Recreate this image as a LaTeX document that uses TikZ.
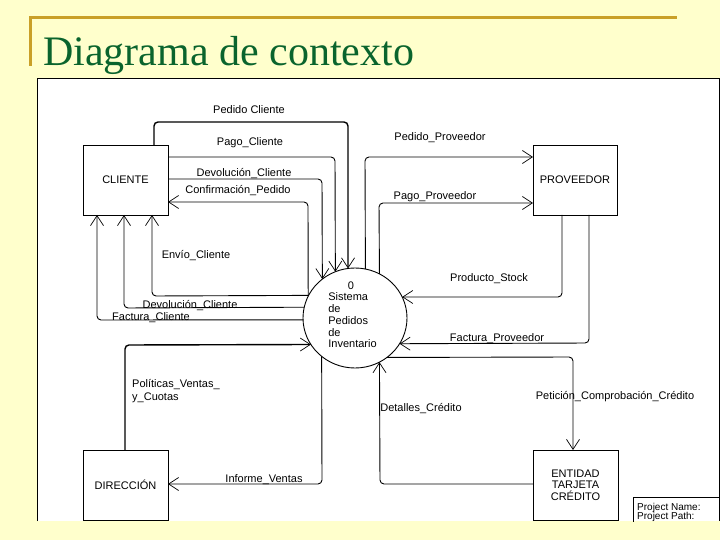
\documentclass[tikz,border=0pt]{standalone}
\usepackage{fontspec}
\setmainfont{Liberation Serif}
\newfontfamily\arialf{Liberation Sans}
\usetikzlibrary{arrows.meta,shapes.geometric}
\definecolor{bgyellow}{RGB}{255,255,204}
\definecolor{titlegreen}{RGB}{10,100,45}
\definecolor{goldline}{RGB}{201,160,40}
\begin{document}
\begin{tikzpicture}[x=1pt,y=-1pt,
  flow/.style={draw, line width=0.9pt, rounded corners=4pt,
    -{Straight Barb[length=10pt,width=13pt,line width=0.7pt]}},
  entity/.style={draw, line width=0.9pt, minimum width=85pt, minimum height=70pt,
    inner sep=0pt, outer sep=0pt, align=center,
    font=\arialf\fontsize{11}{11.6}\selectfont},
  lbl/.style={font=\arialf\fontsize{11}{13}\selectfont, inner sep=0pt}]
\fill[bgyellow] (0,0) rectangle (720,540);
\useasboundingbox (0,0) rectangle (720,540);
% title
\draw[goldline, line width=3pt] (30,66) -- (30,18) -- (677,18);
\node[anchor=base west, inner sep=0pt, text=titlegreen,
  font=\fontsize{42}{48}\selectfont] (title) at (43,66) {Diagrama de contexto};
% panel
\fill[white] (37,78) rectangle (719.5,521);
\draw[line width=0.8pt] (37,521) -- (37,78) -- (719.5,78) -- (719.5,521);
\begin{scope}
\clip (37,78) rectangle (720,521);
% entities
\node[entity] (cli) at (125.5,180) {CLIENTE};
\node[entity, minimum width=84pt] (prov) at (575,180) {PROVEEDOR};
\node[entity] (dir) at (125.5,485) {DIRECCIÓN};
\node[entity] (ent) at (575.5,485) {ENTIDAD\\TARJETA\\CRÉDITO};
\node[draw, ellipse, line width=0.9pt, minimum width=104pt, minimum height=100pt,
  inner sep=0pt, outer sep=0pt] (sys) at (355,318) {};
\node[lbl] (sysnum) at (351,286) {0};
\node[lbl, align=left, font=\arialf\fontsize{11}{11.75}\selectfont] (systext)
  at (352.5,320.5) {Sistema\\de\\Pedidos\\de\\Inventario};
% flows with CLIENTE
\draw[flow, line width=1.4pt] (154,0 |- cli.north) |- (348,122) -- (sys.98);
\draw[flow] (cli.east |- 0,157) -- (335,157) -- (sys.113.4);
\draw[flow] (cli.east |- 0,179) -- (322,179) -- (sys.130.5);
\draw[flow] (sys.155.5) -- (308,202) -- (cli.east |- 0,202);
\draw[flow] (sys.154.8) -- (152,296) -- (152,0 |- cli.south);
\draw[flow] (sys.168.9) -- (124,308) -- (124,0 |- cli.south);
\draw[flow] (sys.182.2) -- (97,320) -- (97,0 |- cli.south);
% flows with PROVEEDOR
\draw[flow] (sys.78.5) -- (365,157) -- (prov.west |- 0,157);
\draw[flow] (sys.61.6) -- (379,203) -- (prov.west |- 0,203);
\draw[flow] (562,0 |- prov.south) -- (562,297) -- (sys.24);
\draw[flow] (589,0 |- prov.south) -- (589,343) -- (sys.330.9);
% flows with DIRECCION
\draw[flow, line width=1.4pt] (125,0 |- dir.north) -- (125,345) -- (sys.211.7);
\draw[flow] (sys.229.5) -- (322,484) -- (dir.east |- 0,484);
% flows with ENTIDAD
\draw[flow] (sys.309.8) -- (573,357) -- (573,0 |- ent.north);
\draw[flow] (ent.west |- 0,484) -- (380,484) -- (sys.299.7);
% labels
\node[lbl] (l1) at (249,110) {Pedido Cliente};
\node[lbl] (l2) at (250,143) {Pago\_Cliente};
\node[lbl] (l3) at (244,174) {Devolución\_Cliente};
\node[lbl] (l4) at (238,191) {Confirmación\_Pedido};
\node[lbl] (l5) at (196,256) {Envío\_Cliente};
\node[lbl] (l6) at (190,306) {Devolución\_Cliente};
\node[lbl] (l7) at (151,318) {Factura\_Cliente};
\node[lbl] (l8) at (440,138) {Pedido\_Proveedor};
\node[lbl] (l9) at (435,197) {Pago\_Proveedor};
\node[lbl] (l10) at (489,279) {Producto\_Stock};
\node[lbl] (l11) at (497,339) {Factura\_Proveedor};
\node[lbl, align=left, anchor=north west, font=\arialf\fontsize{11}{13}\selectfont]
  (l12) at (132,379) {Políticas\_Ventas\_\\y\_Cuotas};
\node[lbl] (l13) at (264,480) {Informe\_Ventas};
\node[lbl] (l14) at (421,409) {Detalles\_Crédito};
\node[lbl] (l15) at (615,397) {Petición\_Comprobación\_Crédito};
% project box
\draw[line width=0.8pt] (633,530) -- (633,497) -- (725,497);
\node[lbl, anchor=base west, font=\arialf\fontsize{10}{10}\selectfont] (pn) at (637,510.5) {Project Name:};
\node[lbl, anchor=base west, font=\arialf\fontsize{10}{10}\selectfont] (pp) at (637,519.5) {Project Path:};
\end{scope}
\end{tikzpicture}
\end{document}
